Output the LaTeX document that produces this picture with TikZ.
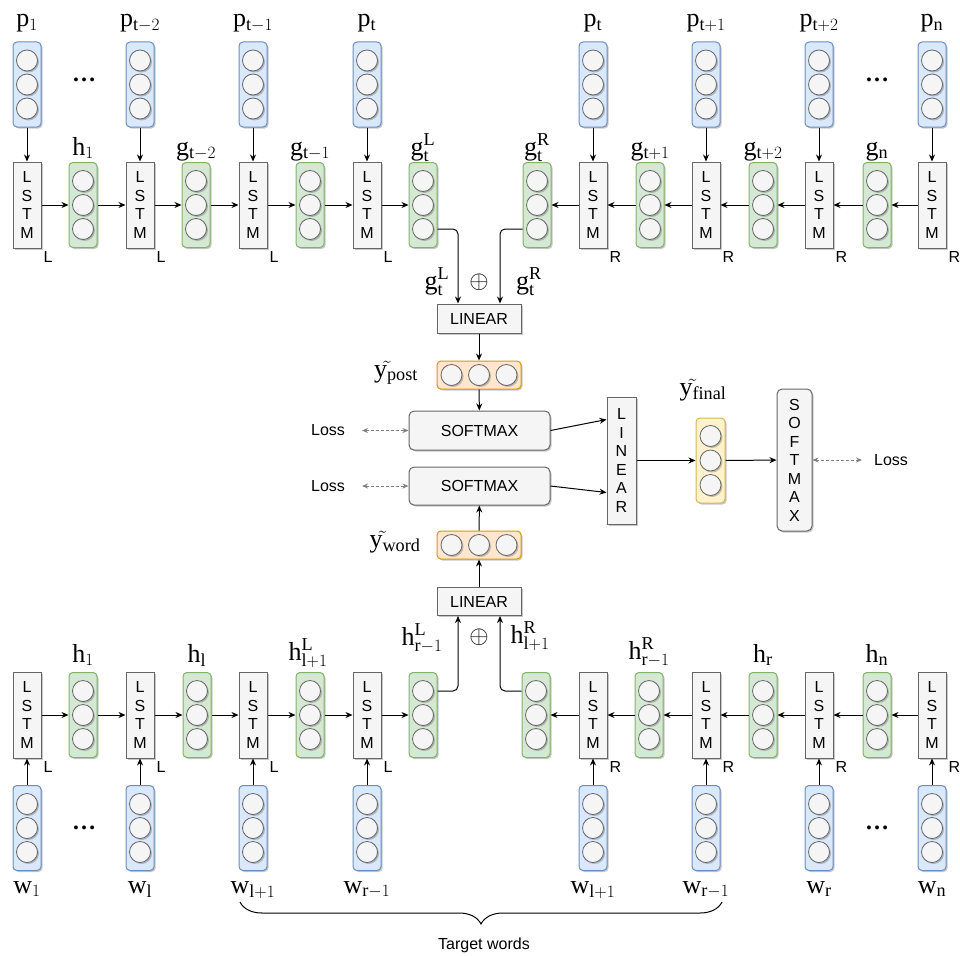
\documentclass[tikz,border=0pt]{standalone}
\usepackage{fontspec}
\setmainfont{Liberation Serif}
\setsansfont{Liberation Sans}
\usetikzlibrary{arrows.meta,shadows,decorations.pathreplacing,calc}

\definecolor{bluef}{HTML}{DAE8FC}\definecolor{bluel}{HTML}{6C8EBF}
\definecolor{greenf}{HTML}{D5E8D4}\definecolor{greenl}{HTML}{82B366}
\definecolor{orangef}{HTML}{FFE6CC}\definecolor{orangel}{HTML}{D79B00}
\definecolor{yellowf}{HTML}{FFF2CC}\definecolor{yellowl}{HTML}{D6B656}
\definecolor{grayf}{HTML}{F5F5F5}\definecolor{grayl}{HTML}{666666}

\tikzset{
  shad/.style={drop shadow={shadow xshift=1.5pt,shadow yshift=-1.5pt,opacity=0.22,fill=black}},
  vbx/.style={minimum width=28pt,minimum height=85pt,inner sep=0pt,rounded corners=4pt,line width=1pt,shad},
  hbx/.style={minimum width=84pt,minimum height=28pt,inner sep=0pt,rounded corners=4pt,line width=1pt,shad},
  bluebox/.style={vbx,draw=bluel,fill=bluef},
  greenbox/.style={vbx,draw=greenl,fill=greenf},
  orangebox/.style={hbx,draw=orangel,fill=orangef},
  yellowbox/.style={vbx,draw=yellowl,fill=yellowf},
  cir/.style={circle,draw=grayl,fill=grayf,minimum size=21pt,inner sep=0pt,line width=0.8pt,shad},
  sans/.style={font=\sffamily\fontsize{16}{18.5}\selectfont},
  graybox/.style={draw=grayl,fill=grayf,inner sep=0pt,line width=1pt,shad,sans,align=center},
  lstm/.style={graybox,minimum width=28pt,minimum height=86pt},
  lab/.style={font=\fontsize{26}{30}\selectfont,anchor=base,inner sep=0pt},
  side/.style={sans,anchor=north west,inner sep=0pt},
  dots/.style={font=\fontsize{24}{28}\selectfont\bfseries,inner sep=0pt},
  arr/.style={-{Stealth[length=7pt,width=6pt]},line width=1pt},
  lossarr/.style={{Stealth[length=6pt,width=5pt]}-{Stealth[length=6pt,width=5pt]},line width=1pt,draw=black!50,dash pattern=on 3pt off 2pt},
}

\newcommand{\vcol}[4]{%
  \node[#2] (#1) at (#3,#4) {};
  \node[cir] (#1a) at (#3,#4-24) {};
  \node[cir] (#1b) at (#3,#4) {};
  \node[cir] (#1c) at (#3,#4+24) {};
}
\newcommand{\hcol}[4]{%
  \node[#2] (#1) at (#3,#4) {};
  \node[cir] (#1a) at (#3-27.5,#4) {};
  \node[cir] (#1b) at (#3,#4) {};
  \node[cir] (#1c) at (#3+27.5,#4) {};
}

\begin{document}
\begin{tikzpicture}[x=1pt,y=-1pt]
\fill[white] (0,0) rectangle (960,955);
\useasboundingbox (0,0) rectangle (960,955);

% ---------------- top row ----------------
\foreach \n/\x in {1/27,2/140,3/253,4/367,5/593,6/706,7/819,8/932}{
  \vcol{tp\n}{bluebox}{\x}{84.5}
  \node[lstm] (tl\n) at (\x,205) {L\\S\\T\\M};
  \draw[arr] (tp\n) -- (tl\n);
}
\foreach \n in {1,2,3,4}{ \node[side] (tside\n) at ([xshift=2pt,yshift=-3pt]tl\n.south east) {L}; }
\foreach \n in {5,6,7,8}{ \node[side] (tside\n) at ([xshift=2pt,yshift=-3pt]tl\n.south east) {R}; }
\foreach \n/\x in {1/83,2/196,3/310,4/423,5/537,6/650,7/763,8/877}{
  \vcol{tg\n}{greenbox}{\x}{205}
}
\foreach \a/\b in {tl1/tg1,tg1/tl2,tl2/tg2,tg2/tl3,tl3/tg3,tg3/tl4,tl4/tg4,
                   tl8/tg8,tg8/tl7,tl7/tg7,tg7/tl6,tl6/tg6,tg6/tl5,tl5/tg5}{
  \draw[arr] (\a) -- (\b);
}
\node[dots] (tdotsL) at (84,80) {\dots};
\node[dots] (tdotsR) at (877,80) {\dots};

\node[lab] (lp1) at (27,27) {$\mathrm{p}_{1}$};
\node[lab] (lp2) at (140,27) {$\mathrm{p}_{\mathrm{t}-2}$};
\node[lab] (lp3) at (253,27) {$\mathrm{p}_{\mathrm{t}-1}$};
\node[lab] (lp4) at (367,27) {$\mathrm{p}_{\mathrm{t}}$};
\node[lab] (lp5) at (593,27) {$\mathrm{p}_{\mathrm{t}}$};
\node[lab] (lp6) at (706,27) {$\mathrm{p}_{\mathrm{t}+1}$};
\node[lab] (lp7) at (819,27) {$\mathrm{p}_{\mathrm{t}+2}$};
\node[lab] (lp8) at (932,27) {$\mathrm{p}_{\mathrm{n}}$};

\node[lab] (lg1) at (83,155) {$\mathrm{h}_{1}$};
\node[lab] (lg2) at (196,155) {$\mathrm{g}_{\mathrm{t}-2}$};
\node[lab] (lg3) at (310,155) {$\mathrm{g}_{\mathrm{t}-1}$};
\node[lab] (lg4) at (423,155) {$\mathrm{g}_{\mathrm{t}}^{\mathrm{L}}$};
\node[lab] (lg5) at (537,155) {$\mathrm{g}_{\mathrm{t}}^{\mathrm{R}}$};
\node[lab] (lg6) at (650,155) {$\mathrm{g}_{\mathrm{t}+1}$};
\node[lab] (lg7) at (763,155) {$\mathrm{g}_{\mathrm{t}+2}$};
\node[lab] (lg8) at (877,155) {$\mathrm{g}_{\mathrm{n}}$};

% ---------------- middle ----------------
\node[graybox,minimum width=84pt,minimum height=29pt] (lin1) at (479,318.5) {LINEAR};
\draw[arr,rounded corners=5pt] (tg4.east |- tg4c) -| ($(lin1.north)+(-21,0)$);
\draw[arr,rounded corners=5pt] (tg5.west |- tg5c) -| ($(lin1.north)+(21,0)$);
\node[lab] (glab) at (437,289) {$\mathrm{g}_{\mathrm{t}}^{\mathrm{L}}$};
\node[lab] (grab) at (529,289) {$\mathrm{g}_{\mathrm{t}}^{\mathrm{R}}$};
\node[font=\fontsize{24}{28}\selectfont,inner sep=0pt] (oplus1) at (479,282) {$\oplus$};

\hcol{ypost}{orangebox}{479}{375}
\node[lab] (lypost) at (396,377) {$\mathrm{y}\tilde{}_{\mathrm{post}}$};
\draw[arr] (lin1) -- (ypost);

\node[graybox,rounded corners=5pt,minimum width=141pt,minimum height=39pt] (sm1) at (479.5,430.5) {SOFTMAX};
\node[graybox,rounded corners=5pt,minimum width=141pt,minimum height=38pt] (sm2) at (479.5,486) {SOFTMAX};
\draw[arr] (ypost) -- (sm1);

\coordinate (l1) at (362,430.5);
\coordinate (l2) at (362,486);
\draw[lossarr] (l1) -- (sm1.west);
\draw[lossarr] (l2) -- (sm2.west);
\node[sans] (loss1) at (328,430.5) {Loss};
\node[sans] (loss2) at (328,486) {Loss};

\hcol{yword}{orangebox}{479}{545}
\node[lab] (lyword) at (395,547) {$\mathrm{y}\tilde{}_{\mathrm{word}}$};
\draw[arr] (yword) -- (sm2);

\node[graybox,minimum width=84pt,minimum height=28pt] (lin2) at (479,601.5) {LINEAR};
\draw[arr] (lin2) -- (yword);

\node[graybox,minimum width=29pt,minimum height=127pt] (linV) at (621.5,460.5) {L\\I\\N\\E\\A\\R};
\draw[arr] (sm1.east) -- ([yshift=41pt]linV.west);
\draw[arr] (sm2.east) -- ([yshift=-32pt]linV.west);

\node[yellowbox,minimum width=29pt] (yfin) at (710.5,460.5) {};
\node[cir] (yfina) at (710.5,436) {};
\node[cir] (yfinb) at (710.5,460.5) {};
\node[cir] (yfinc) at (710.5,485) {};
\node[lab] (lyfin) at (703,395) {$\mathrm{y}\tilde{}_{\mathrm{final}}$};
\draw[arr] (linV) -- (yfin);

\node[graybox,rounded corners=5pt,minimum width=35pt,minimum height=142pt] (smV) at (794.5,460) {S\\O\\F\\T\\M\\A\\X};
\draw[arr] (yfin) -- (smV);
\coordinate (l3) at (862,460);
\draw[lossarr] (smV.east) -- (l3);
\node[sans] (loss3) at (891,460) {Loss};

% ---------------- bottom row ----------------
\foreach \n/\x in {1/27,2/140,3/253,4/367,5/593,6/706,7/819,8/932}{
  \vcol{bw\n}{bluebox}{\x}{828}
  \node[lstm] (bl\n) at (\x,715) {L\\S\\T\\M};
  \draw[arr] (bw\n) -- (bl\n);
}
\foreach \n in {1,2,3,4}{ \node[side] (bside\n) at ([xshift=2pt,yshift=-3pt]bl\n.south east) {L}; }
\foreach \n in {5,6,7,8}{ \node[side] (bside\n) at ([xshift=2pt,yshift=-3pt]bl\n.south east) {R}; }
\foreach \n/\x in {1/83,2/197,3/310,4/423,5/536,6/649,7/763,8/877}{
  \vcol{bg\n}{greenbox}{\x}{715}
}
\foreach \a/\b in {bl1/bg1,bg1/bl2,bl2/bg2,bg2/bl3,bl3/bg3,bg3/bl4,bl4/bg4,
                   bl8/bg8,bg8/bl7,bl7/bg7,bg7/bl6,bl6/bg6,bg6/bl5,bl5/bg5}{
  \draw[arr] (\a) -- (\b);
}
\draw[arr,rounded corners=5pt] (bg4.east |- bg4a) -| ($(lin2.south)+(-21,0)$);
\draw[arr,rounded corners=5pt] (bg5.west |- bg5a) -| ($(lin2.south)+(21,0)$);
\node[font=\fontsize{24}{28}\selectfont,inner sep=0pt] (oplus2) at (479,637) {$\oplus$};

\node[dots] (bdotsL) at (84,828) {\dots};
\node[dots] (bdotsR) at (877,828) {\dots};

\node[lab] (lh1) at (83,662) {$\mathrm{h}_{1}$};
\node[lab] (lh2) at (197,662) {$\mathrm{h}_{\mathrm{l}}$};
\node[lab] (lh3) at (308,660) {$\mathrm{h}_{\mathrm{l}+1}^{\mathrm{L}}$};
\node[lab] (lh4) at (422,645) {$\mathrm{h}_{\mathrm{r}-1}^{\mathrm{L}}$};
\node[lab] (lh5) at (530,643) {$\mathrm{h}_{\mathrm{l}+1}^{\mathrm{R}}$};
\node[lab] (lh6) at (649,659) {$\mathrm{h}_{\mathrm{r}-1}^{\mathrm{R}}$};
\node[lab] (lh7) at (763,662) {$\mathrm{h}_{\mathrm{r}}$};
\node[lab] (lh8) at (877,662) {$\mathrm{h}_{\mathrm{n}}$};

\node[lab] (lw1) at (27,893) {$\mathrm{w}_{1}$};
\node[lab] (lw2) at (140,893) {$\mathrm{w}_{\mathrm{l}}$};
\node[lab] (lw3) at (253,893) {$\mathrm{w}_{\mathrm{l}+1}$};
\node[lab] (lw4) at (367,893) {$\mathrm{w}_{\mathrm{r}-1}$};
\node[lab] (lw5) at (593,893) {$\mathrm{w}_{\mathrm{l}+1}$};
\node[lab] (lw6) at (706,893) {$\mathrm{w}_{\mathrm{r}-1}$};
\node[lab] (lw7) at (819,893) {$\mathrm{w}_{\mathrm{r}}$};
\node[lab] (lw8) at (932,893) {$\mathrm{w}_{\mathrm{n}}$};

\coordinate (brL) at (240,902);
\coordinate (brR) at (722,902);
\draw[line width=1pt,decorate,decoration={brace,amplitude=22pt,mirror}] (brL) -- (brR);
\node[font=\sffamily\fontsize{16}{18}\selectfont] (target) at (484,945) {Target words};
\end{tikzpicture}
\end{document}
